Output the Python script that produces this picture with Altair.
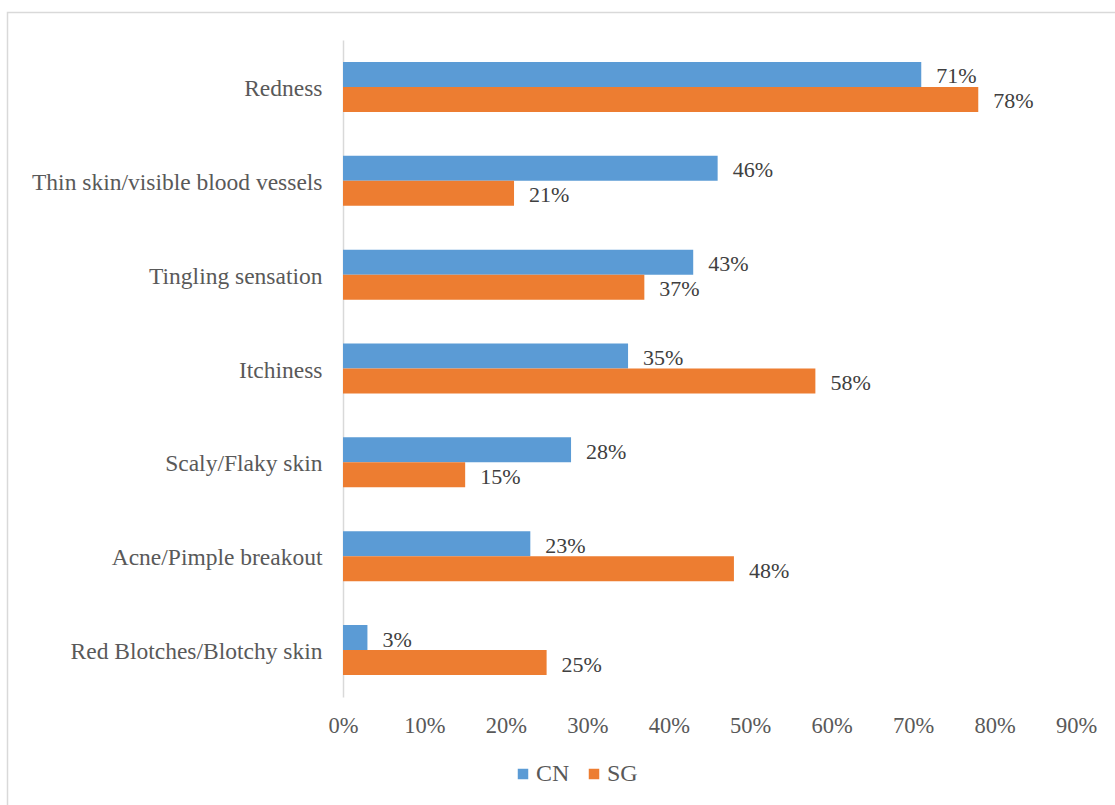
import altair as alt
import pandas as pd

categories = [
    "Redness",
    "Thin skin/visible blood vessels",
    "Tingling sensation",
    "Itchiness",
    "Scaly/Flaky skin",
    "Acne/Pimple breakout",
    "Red Blotches/Blotchy skin",
]
cn_values = [0.71, 0.46, 0.43, 0.35, 0.28, 0.23, 0.03]
sg_values = [0.78, 0.21, 0.37, 0.58, 0.15, 0.48, 0.25]
series = ["CN", "SG"]
colors = ["#5B9BD5", "#ED7D31"]

rows = []
for c, a, b in zip(categories, cn_values, sg_values):
    rows.append({"symptom": c, "group": "CN", "value": a})
    rows.append({"symptom": c, "group": "SG", "value": b})
df = pd.DataFrame(rows)

FONT = "Liberation Serif"

y_enc = alt.Y(
    "symptom:N",
    sort=categories,
    scale=alt.Scale(paddingInner=0.467, paddingOuter=0.234),
    axis=alt.Axis(
        title=None, ticks=False, labelPadding=21, labelFontSize=23.5,
        labelFont=FONT, labelColor="#595959", domainColor="#D9D9D9",
        domainWidth=1.5, labelLimit=400, labelOffset=2,
    ),
)
x_enc = alt.X(
    "value:Q",
    scale=alt.Scale(domain=[0, 0.9], nice=False),
    axis=alt.Axis(
        title=None, format=".0%", values=[i / 10 for i in range(10)],
        grid=False, domain=False, ticks=False, labelPadding=17,
        labelFontSize=22.5, labelFont=FONT, labelColor="#595959",
        labelFlush=False,
    ),
)
yoff = alt.YOffset("group:N", sort=series, scale=alt.Scale(paddingInner=0, paddingOuter=0))

bars = alt.Chart(df).mark_bar().encode(
    x=x_enc,
    y=y_enc,
    yOffset=yoff,
    color=alt.Color(
        "group:N",
        scale=alt.Scale(domain=series, range=colors),
        legend=alt.Legend(
            title=None, orient="none", direction="horizontal",
            legendX=168, legendY=722, symbolType="square", symbolSize=110,
            symbolStrokeWidth=0, labelFontSize=24, labelFont=FONT,
            labelColor="#595959", symbolOffset=0, columnPadding=12,
            labelOffset=1,
        ),
    ),
)

labels = alt.Chart(df).mark_text(
    align="left", baseline="middle", dx=15, dy=2, fontSize=22, font=FONT,
    color="#404040",
).encode(
    x=alt.X("value:Q"),
    y=alt.Y("symptom:N", sort=categories),
    yOffset=alt.YOffset("group:N", sort=series),
    text=alt.Text("value:Q", format=".0%"),
)

border = alt.Chart(pd.DataFrame({"k": [0]})).mark_rect(
    fill=None, stroke="#D9D9D9", strokeWidth=1.5
).encode(
    x=alt.value(-335.5), x2=alt.value(800), y=alt.value(-27.5), y2=alt.value(800)
)

chart = alt.layer(border, bars, labels).properties(
    width=733, height=657,
    autosize=alt.AutoSizeParams(type="none"),
    padding={"left": 343, "top": 40, "right": 39, "bottom": 108},
).configure_view(stroke=None)

chart.save("out.html", embed_options={"renderer": "svg", "actions": False})
